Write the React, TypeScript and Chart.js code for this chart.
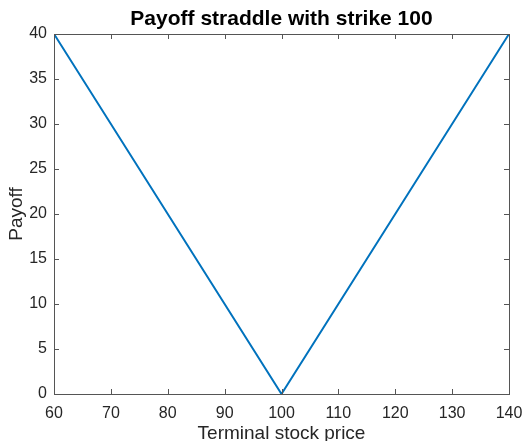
import React, { useEffect, useRef } from "react";
import { Chart, registerables } from "chart.js";

Chart.register(...registerables);

const prices = [60, 100, 140];
const payoffs = [40, 0, 40];
const chartTitle = "Payoff straddle with strike 100";
const xLabel = "Terminal stock price";
const yLabel = "Payoff";

const FONT = "'Liberation Sans', Arial, Helvetica, sans-serif";
const AXIS_COLOR = "#262626";

const boxPlugin = {
  id: "matlabBox",
  afterDatasetsDraw(chart: any) {
    const { ctx, chartArea, scales } = chart;
    const { left, right, top, bottom } = chartArea;
    ctx.save();
    ctx.lineWidth = 1;
    ctx.strokeStyle = "#555555";
    const tl = 5;
    ctx.beginPath();
    scales.x.ticks.forEach((t: any) => {
      const px = Math.round(scales.x.getPixelForValue(t.value)) + 0.5;
      ctx.moveTo(px, bottom);
      ctx.lineTo(px, bottom - tl);
      ctx.moveTo(px, top);
      ctx.lineTo(px, top + tl);
    });
    scales.y.ticks.forEach((t: any) => {
      const py = Math.round(scales.y.getPixelForValue(t.value)) + 0.5;
      ctx.moveTo(left, py);
      ctx.lineTo(left + tl, py);
      ctx.moveTo(right, py);
      ctx.lineTo(right - tl, py);
    });
    ctx.stroke();
    ctx.strokeRect(Math.round(left) + 0.5, Math.round(top) + 0.5, Math.round(right - left), Math.round(bottom - top));
    // title centred over the plot area
    ctx.fillStyle = "#000";
    ctx.font = `bold 21px ${FONT}`;
    ctx.textAlign = "center";
    ctx.textBaseline = "alphabetic";
    ctx.fillText(chartTitle, (left + right) / 2, 25);
    ctx.restore();
  },
};

export default function App() {
  const ref = useRef<HTMLCanvasElement | null>(null);
  useEffect(() => {
    if (!ref.current) return;
    const chart = new Chart(ref.current, {
      type: "line",
      data: {
        datasets: [
          {
            data: prices.map((p, i) => ({ x: p, y: payoffs[i] })),
            borderColor: "#0072BD",
            borderWidth: 2,
            pointRadius: 0,
            fill: false,
            tension: 0,
          },
        ],
      },
      options: {
        animation: false,
        responsive: false,
        maintainAspectRatio: false,
        layout: { padding: { top: 34, right: 16, bottom: 0, left: 0 } },
        plugins: {
          legend: { display: false },
          tooltip: { enabled: false },
          title: { display: false },
        },
        scales: {
          x: {
            type: "linear",
            min: 60,
            max: 140,
            ticks: {
              stepSize: 10,
              color: AXIS_COLOR,
              font: { family: FONT, size: 16 },
              padding: 10,
              maxRotation: 0,
            },
            grid: { display: false, drawTicks: false },
            border: { display: false },
            title: {
              display: true,
              text: xLabel,
              color: AXIS_COLOR,
              font: { family: FONT, size: 19 },
              padding: { top: 0, bottom: -4 },
            },
            afterFit: (s: any) => {
              s.height = 47;
              s.paddingLeft = 0;
              s.paddingRight = 0;
            },
          },
          y: {
            min: 0,
            max: 40,
            ticks: {
              stepSize: 5,
              color: AXIS_COLOR,
              font: { family: FONT, size: 16 },
              padding: 7,
            },
            grid: { display: false, drawTicks: false },
            border: { display: false },
            title: {
              display: true,
              text: yLabel,
              color: AXIS_COLOR,
              font: { family: FONT, size: 19 },
              padding: { top: 5, bottom: 0 },
            },
            afterFit: (s: any) => {
              s.width = 54;
              s.paddingTop = 0;
              s.paddingBottom = 0;
            },
          },
        },
      },
      plugins: [boxPlugin],
    });
    return () => chart.destroy();
  }, []);
  return (
    <div style={{ position: "fixed", left: 0, top: 0, width: 525, height: 441, background: "#fff" }}>
      <canvas ref={ref} width={525} height={441} style={{ width: 525, height: 441, display: "block" }} />
    </div>
  );
}
